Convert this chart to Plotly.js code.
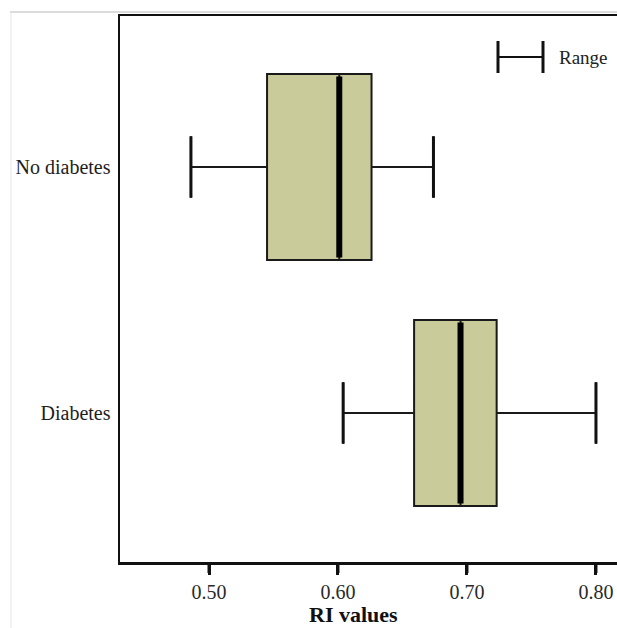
<!DOCTYPE html>
<html>
<head>
<meta charset="utf-8">
<script src="https://cdn.plot.ly/plotly-3.0.1.min.js"></script>
<style>html,body{margin:0;padding:0;background:#fff;}#chart{width:617px;height:628px;}</style>
</head>
<body>
<div id="chart"></div>
<script>
// Data
const categories = ['Diabetes', 'No diabetes'];
const catPos = [0, 1];
const minVals = [0.604, 0.486];
const q1Vals = [0.659, 0.545];
const medianVals = [0.695, 0.601];
const q3Vals = [0.723, 0.626];
const maxVals = [0.800, 0.674];
const xTickVals = [0.50, 0.60, 0.70, 0.80];
const xTickText = ['0.50', '0.60', '0.70', '0.80'];

const boxWidth = 0.756;
const capFrac = 0.33;
const font = 'Liberation Serif, Times New Roman, serif';

const box = {
  type: 'box',
  orientation: 'h',
  y: catPos,
  q1: q1Vals,
  median: medianVals,
  q3: q3Vals,
  lowerfence: minVals,
  upperfence: maxVals,
  width: boxWidth,
  whiskerwidth: capFrac,
  fillcolor: 'rgb(201,203,155)',
  line: {color: '#1a1a1a', width: 2},
  boxpoints: false,
  hoverinfo: 'skip',
  showlegend: false
};

// Thick median lines
const mx = [], my = [];
medianVals.forEach((m, i) => {
  mx.push(m, m, null);
  my.push(catPos[i] - boxWidth / 2 + 0.01, catPos[i] + boxWidth / 2 - 0.01, null);
});
const medianTrace = {
  type: 'scatter', mode: 'lines', x: mx, y: my,
  line: {color: '#000', width: 6}, hoverinfo: 'skip', showlegend: false
};

// Thicker whisker caps
const cx = [], cy = [];
const capHalf = boxWidth * capFrac / 2;
catPos.forEach((p, i) => {
  [minVals[i], maxVals[i]].forEach(v => {
    cx.push(v, v, null);
    cy.push(p - capHalf, p + capHalf, null);
  });
});
const capTrace = {
  type: 'scatter', mode: 'lines', x: cx, y: cy,
  line: {color: '#111', width: 3}, hoverinfo: 'skip', showlegend: false
};

// x tick marks (through the x axis scale)
const tickShapes = xTickVals.map(v => ({
  type: 'line', xref: 'x', yref: 'paper', x0: v, x1: v, y0: 0, y1: -11 / 546,
  line: {color: '#111', width: 3}, layer: 'above'
}));

const layout = {
  width: 617, height: 628,
  margin: {l: 120, r: 0, t: 16, b: 66},
  paper_bgcolor: '#fff', plot_bgcolor: '#fff',
  showlegend: false,
  xaxis: {
    range: [0.431, 0.8163],
    tickmode: 'array',
    tickvals: xTickVals, ticktext: xTickText,
    ticks: 'outside', ticklen: 10, tickwidth: 3, tickcolor: '#111',
    showline: true, linecolor: '#111', linewidth: 2.5, mirror: true,
    showgrid: false, zeroline: false,
    tickfont: {family: font, size: 20, color: '#2a2a2a'}
  },
  yaxis: {
    range: [-0.606, 1.614],
    tickmode: 'array',
    tickvals: catPos, ticktext: categories,
    ticks: '', showline: true, linecolor: '#111', linewidth: 2.5,
    showgrid: false, zeroline: false,
    ticklabelstandoff: 3,
    tickfont: {family: font, size: 20, color: '#1e1e1e'}
  },
  annotations: [
    {xref: 'paper', yref: 'paper', x: (353 - 120) / 497, y: -(614 - 562) / 546,
     xanchor: 'center', yanchor: 'middle', showarrow: false,
     text: '<b>RI values</b>', font: {family: font, size: 22, color: '#111'}},
    {xref: 'paper', yref: 'paper', x: (557 - 120) / 497, y: (562 - 58) / 546,
     xanchor: 'left', yanchor: 'middle', showarrow: false,
     text: 'Range', font: {family: font, size: 19, color: '#222'}}
  ],
  shapes: tickShapes.concat([
    // legend glyph
    {type: 'line', xref: 'paper', yref: 'paper', x0: (498 - 120) / 497, x1: (543 - 120) / 497,
     y0: (562 - 57) / 546, y1: (562 - 57) / 546, line: {color: '#111', width: 2}},
    {type: 'line', xref: 'paper', yref: 'paper', x0: (498 - 120) / 497, x1: (498 - 120) / 497,
     y0: (562 - 41) / 546, y1: (562 - 73) / 546, line: {color: '#111', width: 3}},
    {type: 'line', xref: 'paper', yref: 'paper', x0: (543 - 120) / 497, x1: (543 - 120) / 497,
     y0: (562 - 41) / 546, y1: (562 - 73) / 546, line: {color: '#111', width: 3}},
    // faint frame
    {type: 'line', xref: 'paper', yref: 'paper', x0: (10 - 120) / 497, x1: 1.01,
     y0: (562 - 12) / 546, y1: (562 - 12) / 546, line: {color: '#dcdcdc', width: 2}},
    {type: 'line', xref: 'paper', yref: 'paper', x0: (11 - 120) / 497, x1: (11 - 120) / 497,
     y0: (562 - 12) / 546, y1: -0.2, line: {color: '#e6e6e6', width: 1}}
  ])
};

Plotly.newPlot('chart', [box, medianTrace, capTrace], layout, {displayModeBar: false, staticPlot: true});
</script>
</body>
</html>
